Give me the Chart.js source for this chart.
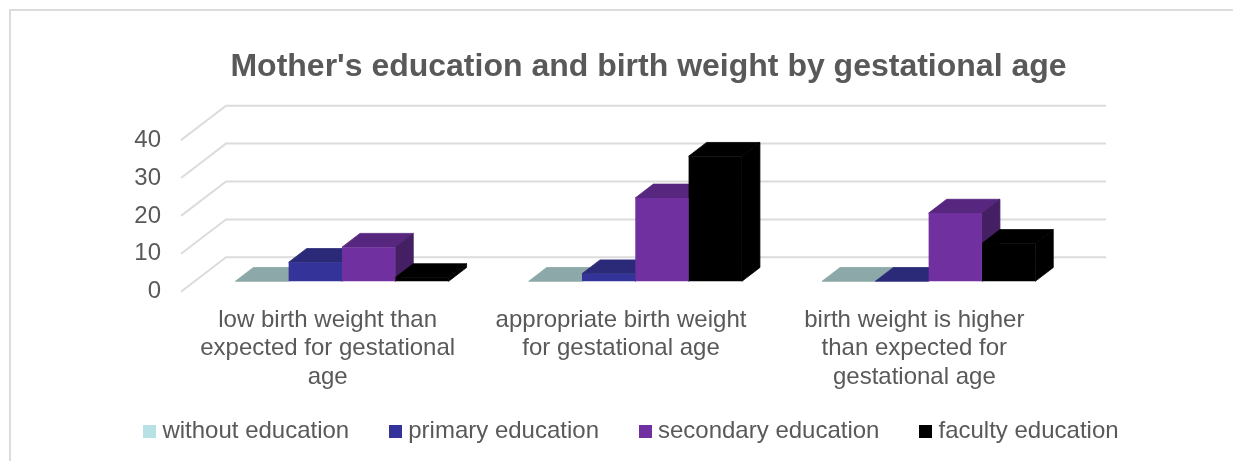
<!DOCTYPE html>
<html><head><meta charset="utf-8">
<style>html,body{margin:0;padding:0;background:#fff}canvas{display:block}</style>
<script src="https://cdn.jsdelivr.net/npm/chart.js@4"></script>
</head><body>
<div style="width:1233px;height:461px"><canvas id="c" width="1233" height="461"></canvas></div>
<script>
const categories = [
  ["low birth weight than", "expected for gestational", "age"],
  ["appropriate birth weight", "for gestational age"],
  ["birth weight is higher", "than expected for", "gestational age"]
];
const seriesNames = ["without education", "primary education", "secondary education", "faculty education"];
const withoutEducation = [0, 0, 0];
const primaryEducation = [5, 2, 0];
const secondaryEducation = [9, 22, 18];
const facultyEducation = [1, 33, 10];
const frontColors = ["#b7e1e4", "#333399", "#7030a0", "#000000"];
const topColors = ["#8ca8a8", "#2a2a78", "#572780", "#000000"];
const sideColors = ["#748c8c", "#232364", "#451f64", "#000000"];
const valueTicks = [0, 10, 20, 30, 40];

const TEXT = "#595959", FONT = "'Liberation Sans', Arial, sans-serif", GRID = "#dcdcdc";
const WALL = {dx: 45, dy: -34.4};      // back wall offset from the front plane
const BAR_PLANE = {dx: 14.3, dy: -10.4}; // front of the bars
const BAR_DEPTH = {dx: 18, dy: -13.8};
const LEGEND_GAP = 46, LEGEND_FONT = 24;

function swatch(color) {
  const s = document.createElement("canvas");
  s.width = 13; s.height = 13;
  const g = s.getContext("2d");
  g.fillStyle = color; g.fillRect(0, 0, 13, 13);
  return s;
}
const swatches = frontColors.map(swatch);

const depthPlugin = {
  id: "depth",
  beforeDraw(chart) {
    const g = chart.ctx;
    g.save();
    g.strokeStyle = GRID; g.lineWidth = 2;
    g.beginPath();
    g.moveTo(10, 461); g.lineTo(10, 10); g.lineTo(1233, 10);
    g.stroke();
    g.restore();
  },
  afterLayout(chart) {
    const t = chart.titleBlock, l = chart.legend;
    const ts = 648.5 - (t.left + t.right) / 2;
    t.left += ts; t.right += ts;
    const ls = 634 - (l.left + l.right) / 2;
    l.left += ls; l.right += ls;
    const lv = 431 - (l.top + LEGEND_GAP + LEGEND_FONT / 2);
    l.top += lv; l.bottom += lv;
  },
  beforeDatasetsDraw(chart) {
    const g = chart.ctx, a = chart.chartArea, y = chart.scales.y;
    g.save();
    g.strokeStyle = GRID; g.lineWidth = 2;
    valueTicks.forEach(v => {
      const p = y.getPixelForValue(v);
      g.beginPath();
      g.moveTo(a.left, p);
      g.lineTo(a.left + WALL.dx, p + WALL.dy);
      g.lineTo(a.right + WALL.dx, p + WALL.dy);
      g.stroke();
    });
    g.restore();
    g.save();
    g.translate(BAR_PLANE.dx, BAR_PLANE.dy);
    g.lineWidth = 0.8;
    g.lineJoin = "round";
    chart.data.datasets.forEach((ds, i) => {
      chart.getDatasetMeta(i).data.forEach(bar => {
        const {x, y: top, base, width} = bar.getProps(["x", "y", "base", "width"], true);
        const L = x - width / 2, R = x + width / 2, d = BAR_DEPTH;
        g.fillStyle = g.strokeStyle = topColors[i];
        g.beginPath();
        g.moveTo(L, top); g.lineTo(L + d.dx, top + d.dy); g.lineTo(R + d.dx, top + d.dy); g.lineTo(R, top);
        g.closePath(); g.fill(); g.stroke();
        if (base - top > 0) {
          g.fillStyle = g.strokeStyle = sideColors[i];
          g.beginPath();
          g.moveTo(R, top); g.lineTo(R + d.dx, top + d.dy); g.lineTo(R + d.dx, base + d.dy); g.lineTo(R, base);
          g.closePath(); g.fill(); g.stroke();
        }
      });
    });
  },
  afterDatasetsDraw(chart) {
    chart.ctx.restore();
  }
};

new Chart(document.getElementById("c"), {
  type: "bar",
  data: {
    labels: categories,
    datasets: [withoutEducation, primaryEducation, secondaryEducation, facultyEducation].map((d, i) => ({
      label: seriesNames[i], data: d, backgroundColor: frontColors[i], borderWidth: 0,
      categoryPercentage: 0.727, barPercentage: 1, clip: false
    }))
  },
  plugins: [depthPlugin],
  options: {
    responsive: false, animation: false,
    layout: {padding: {left: 0, right: 0, top: 0, bottom: -30}},
    plugins: {
      tooltip: {enabled: false},
      title: {
        display: true, text: "Mother's education and birth weight by gestational age",
        color: TEXT, font: {family: FONT, size: 32, weight: "bold", lineHeight: 1.2},
        padding: {top: 48, bottom: 53.7}
      },
      legend: {
        position: "bottom",
        labels: {
          color: TEXT, font: {family: FONT, size: LEGEND_FONT}, padding: LEGEND_GAP,
          usePointStyle: true, pointStyleWidth: 1, boxHeight: 13,
          generateLabels(chart) {
            return Chart.defaults.plugins.legend.labels.generateLabels(chart)
              .map((it, i) => ({...it, pointStyle: swatches[i], fontColor: TEXT}));
          }
        }
      }
    },
    scales: {
      x: {
        grid: {display: false}, border: {display: false},
        ticks: {color: TEXT, font: {family: FONT, size: 24, lineHeight: 1.17}, padding: 7, autoSkip: false, maxRotation: 0, minRotation: 0},
        afterFit(s) { s.height = 461 + 30 - 291.7 - 80; }
      },
      y: {
        min: 0, max: 40,
        grid: {display: false}, border: {display: false},
        ticks: {stepSize: 10, color: TEXT, font: {family: FONT, size: 24}, padding: 12},
        afterFit(s) { s.width = 181; }
      },
      rightMargin: {
        position: "right", display: true,
        grid: {display: false}, border: {display: false},
        ticks: {display: false},
        afterFit(s) { s.width = 172; }
      }
    }
  }
});
</script>
</body></html>
